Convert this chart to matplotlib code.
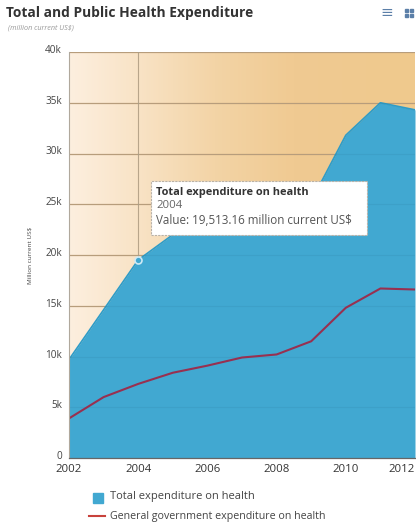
import numpy as np
import matplotlib
matplotlib.use("Agg")
import matplotlib.pyplot as plt
import matplotlib.transforms as mtransforms
from matplotlib.colors import LinearSegmentedColormap
from matplotlib.patches import Rectangle
from matplotlib.lines import Line2D

plt.rcParams['font.family'] = ['Open Sans', 'DejaVu Sans']

years = [2002, 2003, 2004, 2005, 2006, 2007, 2008, 2009, 2010, 2011, 2012]
total_exp = [9.7, 14.6, 19.51316, 22.0, 23.0, 24.0, 24.6, 25.3, 31.8, 35.0, 34.3]   # thousand million US$
public_exp = [3.9, 6.0, 7.3, 8.4, 9.1, 9.9, 10.2, 11.5, 14.8, 16.7, 16.6]
y_ticks = [0, 5, 10, 15, 20, 25, 30, 35, 40]
y_tick_labels = ["0", "5k", "10k", "15k", "20k", "25k", "30k", "35k", "40k"]
x_ticks = [2002, 2004, 2006, 2008, 2010, 2012]
hover_year = 2004
hover_value = "19,513.16"

W, H = 416, 522
fig = plt.figure(figsize=(W / 100, H / 100), dpi=100)
fig.patch.set_facecolor("white")

ax = fig.add_axes([69 / W, 1 - 458 / H, 346 / W, (458 - 52) / H])
ax.set_xlim(2002, 2012)
ax.set_ylim(0, 40)

# warm horizontal gradient behind the plot
grad = LinearSegmentedColormap.from_list(
    "bg", [(0.0, "#fdefdf"), (0.18, "#f9e4c8"), (0.42, "#f3d4a6"),
           (0.65, "#f0ca92"), (1.0, "#efc98d")])
ax.imshow(np.linspace(0, 1, 256)[None, :], cmap=grad, aspect="auto",
          extent=(2002, 2012, 0, 40), zorder=0)

for yv in y_ticks[1:]:
    ax.axhline(yv, color="#c9a57c", lw=0.9, zorder=1)

ax.fill_between(years, 0, total_exp, color="#41a8d1", lw=0, zorder=2)
ax.plot(years, total_exp, color="#2f9cc7", lw=1.2, zorder=3)
for yv in y_ticks[1:]:
    ax.axhline(yv, color="#1a5f80", lw=0.8, alpha=0.10, zorder=3)

ax.plot(years, public_exp, color="#983050", lw=1.5, zorder=4)

# hover crosshair and marker
hv = total_exp[years.index(hover_year)]
ax.plot([hover_year, hover_year], [hv, 40], color="#b8a58a", lw=0.8, zorder=1.5)
ax.plot([hover_year], [hv], marker="o", ms=5, mfc="#41a8d1", mec="#cfeaf5",
        mew=1.2, zorder=5)

ax.set_yticks(y_ticks)
ax.set_yticklabels(y_tick_labels, fontsize=7.2, color="#444444")
ax.set_xticks(x_ticks)
ax.set_xticklabels([str(x) for x in x_ticks], fontsize=8.2, color="#333333")
ax.get_xticklabels()[-1].set_horizontalalignment("right")
ax.tick_params(axis="y", length=0, pad=5)
ax.tick_params(axis="x", length=0, pad=4)
# y labels sit a little above their grid lines
shift_up = mtransforms.ScaledTranslation(0, 3 / 100, fig.dpi_scale_trans)
for lbl in ax.get_yticklabels():
    lbl.set_transform(lbl.get_transform() + shift_up)

for s in ["top", "right"]:
    ax.spines[s].set_visible(False)
ax.spines["left"].set_color("#b0a89c")
ax.spines["left"].set_linewidth(0.8)
ax.spines["bottom"].set_color("#666666")
ax.spines["bottom"].set_linewidth(0.9)
ax.spines["left"].set_zorder(6)
ax.spines["bottom"].set_zorder(6)

ax.set_ylabel("Million current US$", fontsize=4.6, color="#444444", labelpad=9)

# tooltip
tx0, ty0, tx1, ty1 = 151, 181, 367, 235
tip = Rectangle((tx0 / W, 1 - ty1 / H), (tx1 - tx0) / W, (ty1 - ty0) / H,
                transform=fig.transFigure, facecolor="white", edgecolor="#b9b2a8",
                lw=0.8, linestyle=(0, (2, 1)), zorder=10)
fig.patches.append(tip)
fig.text(156 / W, 1 - 192 / H, "Total expenditure on health", fontsize=7.9,
         fontweight="bold", color="#333333", va="center", zorder=11)
fig.text(156 / W, 1 - 206 / H, str(hover_year), fontsize=8.2, color="#666666",
         va="center", zorder=11)
fig.text(156 / W, 1 - 221 / H, "Value: " + hover_value + " million current US$",
         fontsize=8.4, color="#555555", va="center", zorder=11)

# titles
fig.text(6 / W, 1 - 13 / H, "Total and Public Health Expenditure", fontsize=9.9,
         fontweight="bold", color="#333333", va="center")
fig.text(8 / W, 1 - 28 / H, "(million current US$)", fontsize=5.2,
         style="italic", color="#999999", va="center")

# menu icons
fig.text(387 / W, 1 - 13 / H, "\u2261", fontsize=11, color="#5b7fa8",
         va="center", ha="center")
for dx in (0, 5):
    for dy in (0, 5):
        fig.patches.append(Rectangle(((405 + dx) / W, 1 - (17 - dy) / H), 3 / W, 3 / H,
                                     transform=fig.transFigure, color="#5b7fa8"))

# legend
fig.patches.append(Rectangle((93 / W, 1 - 503 / H), 10 / W, 10 / H,
                             transform=fig.transFigure, color="#41a8d1"))
fig.text(110 / W, 1 - 497 / H, "Total expenditure on health", fontsize=8.0,
         color="#444444", va="center")
fig.lines.append(Line2D([89 / W, 105 / W], [1 - 516 / H, 1 - 516 / H],
                        transform=fig.transFigure, color="#c8423c", lw=1.5))
fig.text(110 / W, 1 - 516 / H, "General government expenditure on health",
         fontsize=7.7, color="#444444", va="center")

fig.savefig("out.png", dpi=100)
